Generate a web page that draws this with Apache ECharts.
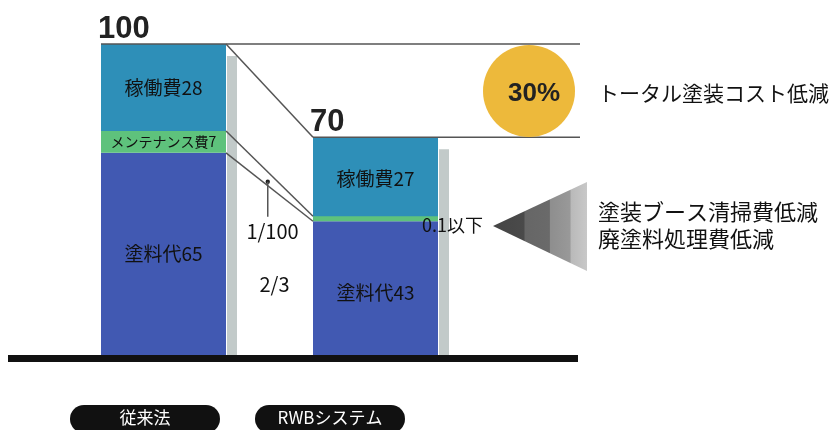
<!DOCTYPE html>
<html><head><meta charset="utf-8">
<script src="https://cdn.jsdelivr.net/npm/echarts@6/dist/echarts.min.js"></script>
<style>html,body{margin:0;padding:0;background:#fff}#c{width:830px;height:430px}</style>
</head><body><div id="c"></div>
<script>
// ---- data ----
const categories = ['従来法', 'RWBシステム'];
const paintCost = [65, 43];      // 塗料代
const maintCost = [7, 0.1];      // メンテナンス費
const laborCost = [28, 27];      // 稼働費
const totals = [100, 70];
const maintLabels = ['メンテナンス費7', '0.1以下'];
const gapLabels = ['1/100', '2/3'];
const reductionLabel = '30%';
const noteTotal = 'トータル塗装コスト低減';
const noteBooth = ['塗装ブース清掃費低減', '廃塗料処理費低減'];

// ---- style ----
const JP = '"Noto Sans CJK JP", "Noto Sans", sans-serif';
const BAR_W = 125;
const MIN_H = 5;
const LINE = '#555';

const chart = echarts.init(document.getElementById('c'), null, {renderer: 'canvas'});

const labelBase = {show: true, position: 'inside', color: '#111', fontFamily: JP, fontSize: 19};

const option = {
  animation: false,
  backgroundColor: '#fff',
  grid: {left: 57.5, right: 348.5, top: 44, bottom: 75},
  xAxis: {type: 'category', data: categories, show: false},
  yAxis: {type: 'value', min: 0, max: 100, show: false},
  series: [
    {
      name: '塗料代', type: 'bar', stack: 'cost', barWidth: BAR_W, z: 2,
      itemStyle: {color: '#4159b2'},
      label: Object.assign({}, labelBase, {formatter: '塗料代{c}'}),
      data: paintCost.map((v, i) => i === 1 ? {value: v, label: {offset: [0, 5]}} : v)
    },
    {
      name: 'メンテナンス費', type: 'bar', stack: 'cost', barWidth: BAR_W, z: 4,
      barMinHeight: MIN_H,
      itemStyle: {color: '#5ec27c'},
      label: Object.assign({}, labelBase, {fontSize: 14, formatter: p => maintLabels[p.dataIndex]}),
      data: maintCost.map((v, i) => i === 1
        ? {value: v, label: {position: 'right', distance: -16, offset: [0, 6], fontSize: 18}}
        : v)
    },
    {
      name: '稼働費', type: 'bar', stack: 'cost', barWidth: BAR_W, z: 3,
      itemStyle: {color: '#2e8fb8'},
      label: Object.assign({}, labelBase, {formatter: '稼働費{c}'}),
      data: laborCost
    },
    {
      // side shadow + total number
      type: 'custom', z: 1,
      data: totals.map((v, i) => [i, v]),
      renderItem(params, api) {
        const i = api.value(0), v = api.value(1);
        const top = api.coord([i, v]);
        const base = api.coord([i, 0]);
        const left = top[0] - BAR_W / 2, right = top[0] + BAR_W / 2;
        return {type: 'group', children: [
          {type: 'rect', shape: {x: right + 1, y: top[1] + 12, width: 10, height: base[1] - top[1] - 12},
           style: {fill: '#c2cac9'}},
          {type: 'text', z2: 10, style: {text: String(v), x: left - 3, y: top[1] + 1,
            align: 'left', verticalAlign: 'bottom', fill: '#222',
            font: 'bold 31px "Liberation Sans", Arial, sans-serif'}}
        ]};
      }
    },
    {
      // connector lines and gap annotations
      type: 'custom', z: 5,
      data: [[0, 0]],
      renderItem(params, api) {
        const hw = BAR_W / 2;
        const c0 = api.coord([0, 0])[0], c1 = api.coord([1, 0])[0];
        const x0 = c0 + hw, x1 = c1 - hw, xl = c0 - hw;
        const xEnd = c1 + hw + 142;
        const yT0 = api.coord([0, totals[0]])[1];
        const yT1 = api.coord([1, totals[1]])[1];
        const yM0a = api.coord([0, paintCost[0] + maintCost[0]])[1];
        const yM0b = api.coord([0, paintCost[0]])[1];
        const yM1b = api.coord([1, paintCost[1]])[1];
        const yM1a = Math.min(api.coord([1, paintCost[1] + maintCost[1]])[1], yM1b - MIN_H);
        const ls = {stroke: LINE, lineWidth: 1.5};
        const seg = (a, b, c, d) => ({type: 'line', shape: {x1: a, y1: b, x2: c, y2: d}, style: ls});
        const t = 0.48;
        const px = x0 + t * (x1 - x0), py = yM0b + t * (yM1b - yM0b) - 4;
        const gx = (x0 + x1) / 2;
        return {type: 'group', children: [
          seg(xl, yT0, xEnd, yT0),
          seg(x0, yT0, x1, yT1),
          seg(x1, yT1, xEnd, yT1),
          seg(x0, yM0a, x1, yM1a),
          seg(x0, yM0b, x1, yM1b),
          {type: 'circle', shape: {cx: px, cy: py, r: 2.2}, style: {fill: '#222'}},
          seg(px, py, px, py + 35),
          {type: 'text', style: {text: gapLabels[0], x: gx + 3, y: py + 50, align: 'center', verticalAlign: 'middle',
            fill: '#111', font: '20px ' + JP}},
          {type: 'text', style: {text: gapLabels[1], x: gx + 5, y: py + 103, align: 'center', verticalAlign: 'middle',
            fill: '#111', font: '20px ' + JP}}
        ]};
      }
    }
  ],
  graphic: [
    // baseline
    {type: 'rect', shape: {x: 8, y: 355, width: 570, height: 7}, style: {fill: '#111'}, z: 10},
    // 30% circle
    {type: 'circle', shape: {cx: 529, cy: 91, r: 46}, style: {fill: '#edb93b'}, z: 6},
    {type: 'text', z: 7, style: {text: reductionLabel, x: 534, y: 94, align: 'center', verticalAlign: 'middle',
      fill: '#222', font: 'bold 26px "Liberation Sans", Arial, sans-serif'}},
    {type: 'text', z: 7, style: {text: noteTotal, x: 598, y: 93, align: 'left', verticalAlign: 'middle',
      fill: '#111', font: '21px ' + JP}},
    // gray triangle
    {type: 'polygon', z: 6, shape: {points: [[493, 226], [587, 182], [587, 271]]},
      style: {fill: new echarts.graphic.LinearGradient(0, 0, 1, 0, [
        {offset: 0, color: '#444'}, {offset: 0.33, color: '#4a4a4a'},
        {offset: 0.34, color: '#666'}, {offset: 0.6, color: '#6a6a6a'},
        {offset: 0.61, color: '#8e8e8e'}, {offset: 0.82, color: '#999'},
        {offset: 0.83, color: '#b9b9b9'}, {offset: 1, color: '#c8c8c8'}])}},
    {type: 'text', z: 7, style: {text: noteBooth[0], x: 598, y: 212, align: 'left', verticalAlign: 'middle',
      fill: '#111', font: '22px ' + JP}},
    {type: 'text', z: 7, style: {text: noteBooth[1], x: 598, y: 239, align: 'left', verticalAlign: 'middle',
      fill: '#111', font: '22px ' + JP}}
  ].concat(categories.map((name, i) => ({
    type: 'group', z: 8, x: [70, 255][i], y: 405,
    children: [
      {type: 'rect', shape: {x: 0, y: 0, width: 150, height: 28, r: 14}, style: {fill: '#111'}},
      {type: 'text', style: {text: name, x: 75, y: 13, align: 'center', verticalAlign: 'middle',
        fill: '#fff', font: '17px ' + JP}}
    ]
  })))
};
chart.setOption(option);
</script>
</body></html>
